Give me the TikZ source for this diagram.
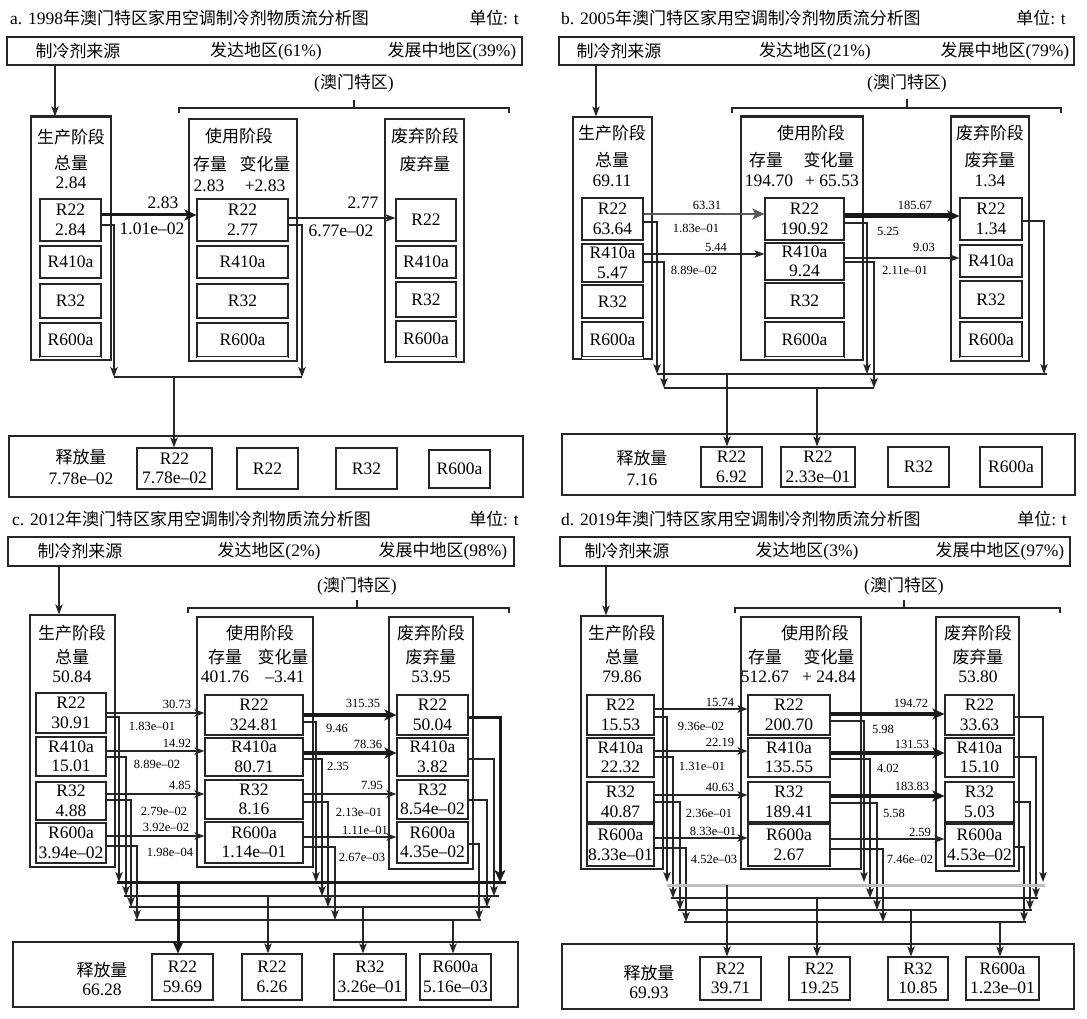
\documentclass[tikz,border=0pt]{standalone}
\usepackage{fontspec}
\setmainfont{Liberation Serif}
\newfontfamily\cjkf{Noto Sans CJK SC}[Scale=0.97]
\usetikzlibrary{arrows.meta}
\newcommand\zhs[1]{{\cjkf #1}}
\newcommand\bigf{\fontsize{17.5}{19.5}\selectfont}
\newcommand\smlf{\fontsize{12.5}{14}\selectfont}
\tikzset{
 bx/.style={draw=black!85, line width=1.2pt, inner sep=0pt, align=center, font=\bigf},
 lab/.style={inner sep=0pt, align=center, font=\bigf},
 sm/.style={font=\smlf},
 ln/.style={draw=black!85, line width=1.2pt},
 arr/.style={ln, -{Stealth[length=10pt,width=7.5pt,inset=2.5pt]}},
 tarr/.style={draw=black!90, -{Stealth[length=12pt,width=11pt,inset=3pt]}},
 toptk/.style={draw=black!85, line width=2.6pt},
 openbot/.style={draw=white, line width=1.8pt},
}
\newcommand\mbx[7][]{\node[bx,#1,minimum width={(#5-#3)*1pt},minimum height={(#6-#4)*1pt}] (#2) at ({(#3+#5)/2},{(#4+#6)/2}) {#7};}
\newcommand\tx[4][]{\node[lab,#1] (#2) at (#3) {#4};}
\newcommand\openb[1]{\draw[openbot] ([xshift=0.7pt]#1.south west) -- ([xshift=-0.7pt]#1.south east);}
\begin{document}
\begin{tikzpicture}[x=1pt,y=-1pt]
\useasboundingbox (0,0) rectangle (1087,1019);
\fill[white] (0,0) rectangle (1087,1019);
%================ Panel a ================
\tx[anchor=west]{aT}{10,18}{a. 1998\zhs{年澳门特区家用空调制冷剂物质流分析图}}
\tx[anchor=east]{aTu}{519,18}{\zhs{单位}: t}
\mbx{aH}{7}{37}{522}{65}{}
\tx{aH1}{78,51}{\zhs{制冷剂来源}}
\tx{aH2}{266,51}{\zhs{发达地区}(61\%)}
\tx{aH3}{452,51}{\zhs{发展中地区}(39\%)}
\tx{aM}{354,83}{(\zhs{澳门特区})}
\draw[ln] (179,113) -- (179,108) -- (509,108) -- (509,113) (354,108) -- (354,100);
\mbx{aP}{31}{117}{111}{360}{}
\draw[toptk] (aP.north west) -- (aP.north east);
\draw[arr] (aH.south -| 55,0) -- (aP.north -| 55,0);
\tx{aP0a}{71,137}{\zhs{生产阶段}}
\tx{aP0b}{71,163}{\zhs{总量}}
\tx{aP0c}{71,183}{2.84}
\mbx{aP1}{40}{199}{101}{241}{R22\\2.84}
\mbx{aP2}{40}{246}{101}{278}{R410a}
\mbx{aP3}{40}{284}{101}{318}{R32}
\mbx{aP4}{40}{323}{101}{357}{R600a}
\openb{aP4}
\mbx{aU}{189}{119}{297}{361}{}
\tx{aU0a}{239,136}{\zhs{使用阶段}}
\tx{aU0b}{210,164}{\zhs{存量}}
\tx{aU0c}{265,164}{\zhs{变化量}}
\tx{aU0d}{209,186}{2.83}
\tx{aU0e}{265,186}{+2.83}
\mbx{aU1}{197}{199}{288}{241}{R22\\2.77}
\mbx{aU2}{197}{246}{288}{278}{R410a}
\mbx{aU3}{197}{284}{288}{318}{R32}
\mbx{aU4}{197}{323}{288}{357}{R600a}
\openb{aU4}
\mbx{aD}{385}{119}{464}{362}{}
\tx{aD0a}{425,136}{\zhs{废弃阶段}}
\tx{aD0b}{425,164}{\zhs{废弃量}}
\mbx{aD1}{396}{199}{456}{241}{R22}
\mbx{aD2}{396}{246}{456}{278}{R410a}
\mbx{aD3}{396}{282}{456}{317}{R32}
\mbx{aD4}{396}{321}{456}{357}{R600a}
\openb{aD4}
\draw[tarr,line width=3pt] (aP1.east |- 0,215) -- (aU1.west |- 0,215);
\tx{aF1}{163,203}{2.83}
\tx{aF2}{152,229}{1.01e–02}
\draw[arr] (aU1.east |- 0,218) -- (aD1.west |- 0,218);
\tx{aF3}{363,203}{2.77}
\tx{aF4}{341,231}{6.77e–02}
\draw[arr] (aP1.east |- 0,225) -| (114,377);
\draw[arr] (aU1.east |- 0,225) -| (302,377);
\draw[ln] (114,377) -- (302,377);
\mbx{aE}{9}{436}{523}{497}{}
\tx{aE0a}{81,457}{\zhs{释放量}}
\tx{aE0b}{81,479}{7.78e–02}
\mbx{aE1}{137}{448}{212}{489}{R22\\7.78e–02}
\mbx{aE2}{237}{448}{298}{489}{R22}
\mbx{aE3}{336}{448}{397}{489}{R32}
\mbx{aE4}{429}{450}{490}{488}{R600a}
\draw[arr] (174,377) -- (aE1.north -| 174,0);
%================ Panel b ================
\tx[anchor=west]{bT}{561,18}{b. 2005\zhs{年澳门特区家用空调制冷剂物质流分析图}}
\tx[anchor=east]{bTu}{1066,18}{\zhs{单位}: t}
\mbx{bH}{559}{37}{1074}{65}{}
\tx{bH1}{619,51}{\zhs{制冷剂来源}}
\tx{bH2}{815,51}{\zhs{发达地区}(21\%)}
\tx{bH3}{1005,51}{\zhs{发展中地区}(79\%)}
\tx{bM}{907,83}{(\zhs{澳门特区})}
\draw[ln] (732,113) -- (732,108) -- (1061,108) -- (1061,113) (907,108) -- (907,99);
\mbx{bP}{573}{117}{652}{359}{}
\draw[arr] (bH.south -| 596,0) -- (bP.north -| 596,0);
\tx{bP0a}{612,133}{\zhs{生产阶段}}
\tx{bP0b}{612,160}{\zhs{总量}}
\tx{bP0c}{612,181}{69.11}
\mbx{bP1}{582}{198}{643}{240}{R22\\63.64}
\mbx{bP2}{582}{244}{643}{282}{R410a\\5.47}
\mbx{bP3}{582}{285}{643}{318}{R32}
\mbx{bP4}{582}{322}{643}{357}{R600a}
\openb{bP4}
\mbx{bU}{741}{117}{863}{360}{}
\draw[toptk] (bU.north west) -- (bU.north east);
\tx{bU0a}{811,133}{\zhs{使用阶段}}
\tx{bU0b}{766,160}{\zhs{存量}}
\tx{bU0c}{829,160}{\zhs{变化量}}
\tx{bU0d}{769,181}{194.70}
\tx{bU0e}{832,181}{+ 65.53}
\mbx{bU1}{765}{198}{844}{240}{R22\\190.92}
\mbx{bU2}{765}{243}{844}{280}{R410a\\9.24}
\mbx{bU3}{765}{283}{844}{318}{R32}
\mbx{bU4}{765}{322}{844}{357}{R600a}
\openb{bU4}
\mbx{bD}{951}{117}{1029}{361}{}
\draw[toptk] (bD.north west) -- (bD.north east);
\tx{bD0a}{990,133}{\zhs{废弃阶段}}
\tx{bD0b}{990,160}{\zhs{废弃量}}
\tx{bD0c}{990,181}{1.34}
\mbx{bD1}{960}{198}{1022}{240}{R22\\1.34}
\mbx{bD2}{960}{245}{1022}{277}{R410a}
\mbx{bD3}{960}{281}{1022}{318}{R32}
\mbx{bD4}{960}{322}{1022}{357}{R600a}
\openb{bD4}
\draw[tarr,line width=2.5pt,draw=black!65] (bP1.east |- 0,214) -- (bU1.west |- 0,214);
\tx[sm]{bF1}{707,205}{63.31}
\tx[sm]{bF2}{696,228}{1.83e–01}
\draw[arr] (bP2.east |- 0,254) -- (bU2.west |- 0,254);
\tx[sm]{bF3}{716,247}{5.44}
\tx[sm]{bF4}{694,270}{8.89e–02}
\draw[tarr,line width=5pt] (bU1.east |- 0,216) -- (bD1.west |- 0,216);
\tx[sm]{bF5}{915,205}{185.67}
\tx[sm]{bF6}{888,231}{5.25}
\draw[arr] (bU2.east |- 0,258) -- (bD2.west |- 0,258);
\tx[sm]{bF7}{924,247}{9.03}
\tx[sm]{bF8}{905,270}{2.11e–01}
\draw[arr] (bP1.east |- 0,222) -| (657,374);
\draw[arr] (bP2.east |- 0,262) -| (664,388);
\draw[arr] (bU1.east |- 0,223) -| (867,374);
\draw[arr,line width=2pt] (bU2.east |- 0,262) -| (874,388);
\draw[arr] (bD1.east |- 0,221) -| (1044,374);
\draw[ln] (657,374) -- (1047,374);
\draw[ln] (664,388) -- (874,388);
\mbx{bE}{562}{434}{1075}{495}{}
\tx{bE0a}{642,458}{\zhs{释放量}}
\tx{bE0b}{642,480}{7.16}
\mbx{bE1}{701}{447}{762}{487}{R22\\6.92}
\mbx{bE2}{781}{447}{855}{487}{R22\\2.33e–01}
\mbx{bE3}{888}{447}{949}{487}{R32}
\mbx{bE4}{980}{447}{1042}{487}{R600a}
\draw[arr] (727,374) -- (bE1.north -| 727,0);
\draw[arr] (817,388) -- (bE2.north -| 817,0);
%================ Panel c ================
\tx[anchor=west]{cT}{12,519}{c. 2012\zhs{年澳门特区家用空调制冷剂物质流分析图}}
\tx[anchor=east]{cTu}{519,519}{\zhs{单位}: t}
\mbx{cH}{8}{537}{514}{566}{}
\tx{cH1}{80,551}{\zhs{制冷剂来源}}
\tx{cH2}{269,551}{\zhs{发达地区}(2\%)}
\tx{cH3}{443,551}{\zhs{发展中地区}(98\%)}
\tx{cM}{357,586}{(\zhs{澳门特区})}
\draw[ln] (188,613) -- (188,608) -- (509,608) -- (509,613) (357,608) -- (357,600);
\mbx{cP}{30}{615}{115}{867}{}
\draw[arr] (cH.south -| 59,0) -- (cP.north -| 59,0);
\tx{cP0a}{72,633}{\zhs{生产阶段}}
\tx{cP0b}{72,657}{\zhs{总量}}
\tx{cP0c}{72,677}{50.84}
\mbx{cP1}{36}{693}{106}{733}{R22\\30.91}
\mbx{cP2}{36}{737}{106}{776}{R410a\\15.01}
\mbx{cP3}{36}{782}{106}{820}{R32\\4.88}
\mbx{cP4}{36}{823}{106}{863}{R600a\\3.94e–02}
\mbx{cU}{197}{617}{313}{867}{}
\tx{cU0a}{260,633}{\zhs{使用阶段}}
\tx{cU0b}{225,657}{\zhs{存量}}
\tx{cU0c}{283,657}{\zhs{变化量}}
\tx{cU0d}{225,677}{401.76}
\tx{cU0e}{285,677}{–3.41}
\mbx{cU1}{205}{695}{303}{735}{R22\\324.81}
\mbx{cU2}{205}{738}{303}{776}{R410a\\80.71}
\mbx{cU3}{205}{780}{303}{819}{R32\\8.16}
\mbx{cU4}{205}{822}{303}{863}{R600a\\1.14e–01}
\mbx{cD}{389}{617}{473}{869}{}
\tx{cD0a}{431,633}{\zhs{废弃阶段}}
\tx{cD0b}{431,657}{\zhs{废弃量}}
\tx{cD0c}{431,677}{53.95}
\mbx{cD1}{397}{695}{468}{735}{R22\\50.04}
\mbx{cD2}{397}{738}{468}{776}{R410a\\3.82}
\mbx{cD3}{397}{780}{468}{819}{R32\\8.54e–02}
\mbx{cD4}{397}{822}{468}{863}{R600a\\4.35e–02}
% flows production -> use
\draw[arr] (cP1.east |- 0,713) -- (cU1.west |- 0,713);
\draw[arr] (cP2.east |- 0,751) -- (cU2.west |- 0,751);
\draw[arr] (cP3.east |- 0,794) -- (cU3.west |- 0,794);
\draw[arr] (cP4.east |- 0,836) -- (cU4.west |- 0,836);
\tx[sm]{cF1}{177,704}{30.73}
\tx[sm]{cF2}{152,726}{1.83e–01}
\tx[sm]{cF3}{177,743}{14.92}
\tx[sm]{cF4}{157,764}{8.89e–02}
\tx[sm]{cF5}{180,785}{4.85}
\tx[sm]{cF6}{164,811}{2.79e–02}
\tx[sm]{cF7}{166,827}{3.92e–02}
\tx[sm]{cF8}{170,852}{1.98e–04}
% flows use -> discard
\draw[tarr,line width=3.5pt] (cU1.east |- 0,715) -- (cD1.west |- 0,715);
\draw[tarr,line width=3.5pt] (cU2.east |- 0,753) -- (cD2.west |- 0,753);
\draw[arr] (cU3.east |- 0,794) -- (cD3.west |- 0,794);
\draw[arr] (cU4.east |- 0,837) -- (cD4.west |- 0,837);
\tx[sm]{cF9}{363,703}{315.35}
\tx[sm]{cF10}{337,728}{9.46}
\tx[sm]{cF11}{368,744}{78.36}
\tx[sm]{cF12}{338,766}{2.35}
\tx[sm]{cF13}{372,785}{7.95}
\tx[sm]{cF14}{359,812}{2.13e–01}
\tx[sm]{cF15}{365,830}{1.11e–01}
\tx[sm]{cF16}{362,857}{2.67e–03}
% emissions
\draw[arr] (cP1.east |- 0,717) -| (119,882);
\draw[arr] (cP2.east |- 0,757) -| (126,896);
\draw[arr] (cP3.east |- 0,800) -| (131,907);
\draw[arr] (cP4.east |- 0,846) -| (137,920);
\draw[arr] (cU1.east |- 0,722) -| (316,882);
\draw[arr] (cU2.east |- 0,759) -| (322,896);
\draw[arr] (cU3.east |- 0,802) -| (328,907);
\draw[arr] (cU4.east |- 0,847) -| (335,920);
\draw[tarr,line width=3pt] (cD1.east |- 0,717) -| (500,882);
\draw[arr] (cD2.east |- 0,759) -| (494,896);
\draw[arr] (cD3.east |- 0,800) -| (487,907);
\draw[arr] (cD4.east |- 0,844) -| (479,920);
\draw[ln,line width=3pt,draw=black!90] (117,882) -- (506,882);
\draw[ln] (124,896) -- (499,896);
\draw[ln] (129,907) -- (490,907);
\draw[ln] (135,920) -- (481,920);
\mbx{cE}{13}{942}{518}{1007}{}
\tx{cE0a}{102,970}{\zhs{释放量}}
\tx{cE0b}{102,990}{66.28}
\mbx{cE1}{152}{954}{213}{1000}{R22\\59.69}
\mbx{cE2}{242}{954}{302}{1000}{R22\\6.26}
\mbx{cE3}{334}{954}{406}{1000}{R32\\3.26e–01}
\mbx{cE4}{420}{954}{491}{1000}{R600a\\5.16e–03}
\draw[tarr,line width=3pt] (178,882) -- (cE1.north -| 178,0);
\draw[arr] (268,896) -- (cE2.north -| 268,0);
\draw[arr] (363,907) -- (cE3.north -| 363,0);
\draw[arr] (453,920) -- (cE4.north -| 453,0);
%================ Panel d ================
\tx[anchor=west]{dT}{561,519}{d. 2019\zhs{年澳门特区家用空调制冷剂物质流分析图}}
\tx[anchor=east]{dTu}{1067,519}{\zhs{单位}: t}
\mbx{dH}{560}{537}{1070}{566}{}
\tx{dH1}{627,551}{\zhs{制冷剂来源}}
\tx{dH2}{807,551}{\zhs{发达地区}(3\%)}
\tx{dH3}{1000,551}{\zhs{发展中地区}(97\%)}
\tx{dM}{904,586}{(\zhs{澳门特区})}
\draw[ln] (735,613) -- (735,608) -- (1060,608) -- (1060,613) (904,608) -- (904,600);
\mbx{dP}{581}{616}{663}{869}{}
\draw[arr] (dH.south -| 606,0) -- (dP.north -| 606,0);
\tx{dP0a}{622,633}{\zhs{生产阶段}}
\tx{dP0b}{622,657}{\zhs{总量}}
\tx{dP0c}{622,677}{79.86}
\mbx{dP1}{587}{695}{654}{735}{R22\\15.53}
\mbx{dP2}{587}{738}{654}{777}{R410a\\22.32}
\mbx{dP3}{587}{782}{654}{822}{R32\\40.87}
\mbx{dP4}{587}{824}{654}{866}{R600a\\8.33e–01}
\mbx{dU}{741}{617}{861}{869}{}
\tx{dU0a}{815,633}{\zhs{使用阶段}}
\tx{dU0b}{765,657}{\zhs{存量}}
\tx{dU0c}{829,657}{\zhs{变化量}}
\tx{dU0d}{765,677}{512.67}
\tx{dU0e}{829,677}{+ 24.84}
\mbx{dU1}{748}{695}{830}{735}{R22\\200.70}
\mbx{dU2}{748}{738}{830}{777}{R410a\\135.55}
\mbx{dU3}{748}{782}{830}{822}{R32\\189.41}
\mbx{dU4}{748}{824}{830}{866}{R600a\\2.67}
\mbx{dD}{936}{617}{1019}{871}{}
\tx{dD0a}{978,633}{\zhs{废弃阶段}}
\tx{dD0b}{978,657}{\zhs{废弃量}}
\tx{dD0c}{978,677}{53.80}
\mbx{dD1}{945}{695}{1014}{735}{R22\\33.63}
\mbx{dD2}{945}{738}{1014}{777}{R410a\\15.10}
\mbx{dD3}{945}{782}{1014}{822}{R32\\5.03}
\mbx{dD4}{945}{824}{1014}{866}{R600a\\4.53e–02}
% flows production -> use
\draw[arr] (dP1.east |- 0,709) -- (dU1.west |- 0,709);
\draw[arr] (dP2.east |- 0,751) -- (dU2.west |- 0,751);
\draw[arr] (dP3.east |- 0,795) -- (dU3.west |- 0,795);
\draw[arr] (dP4.east |- 0,838) -- (dU4.west |- 0,838);
\tx[sm]{dF1}{720,702}{15.74}
\tx[sm]{dF2}{701,726}{9.36e–02}
\tx[sm]{dF3}{720,742}{22.19}
\tx[sm]{dF4}{702,766}{1.31e–01}
\tx[sm]{dF5}{720,787}{40.63}
\tx[sm]{dF6}{709,813}{2.36e–01}
\tx[sm]{dF7}{713,831}{8.33e–01}
\tx[sm]{dF8}{714,859}{4.52e–03}
% flows use -> discard
\draw[tarr,line width=3.5pt] (dU1.east |- 0,714) -- (dD1.west |- 0,714);
\draw[tarr,line width=3.5pt] (dU2.east |- 0,753) -- (dD2.west |- 0,753);
\draw[tarr,line width=3.5pt] (dU3.east |- 0,796) -- (dD3.west |- 0,796);
\draw[arr] (dU4.east |- 0,839) -- (dD4.west |- 0,839);
\tx[sm]{dF9}{911,703}{194.72}
\tx[sm]{dF10}{883,729}{5.98}
\tx[sm]{dF11}{912,744}{131.53}
\tx[sm]{dF12}{888,768}{4.02}
\tx[sm]{dF13}{912,786}{183.83}
\tx[sm]{dF14}{894,813}{5.58}
\tx[sm]{dF15}{920,832}{2.59}
\tx[sm]{dF16}{910,859}{7.46e–02}
% emissions
\draw[arr] (dP1.east |- 0,717) -| (667,882);
\draw[arr] (dP2.east |- 0,757) -| (673,898);
\draw[arr] (dP3.east |- 0,802) -| (680,910);
\draw[arr] (dP4.east |- 0,848) -| (686,922);
\draw[arr] (dU1.east |- 0,721) -| (864,882);
\draw[arr] (dU2.east |- 0,759) -| (870,898);
\draw[arr] (dU3.east |- 0,803) -| (877,910);
\draw[arr] (dU4.east |- 0,849) -| (883,922);
\draw[arr] (dD1.east |- 0,717) -| (1043,882);
\draw[arr] (dD2.east |- 0,757) -| (1036,898);
\draw[arr] (dD3.east |- 0,802) -| (1030,910);
\draw[arr] (dD4.east |- 0,847) -| (1024,922);
\draw[line width=3pt,draw=black!25] (667,885) -- (1045,885);
\draw[ln] (671,898) -- (1038,898);
\draw[ln] (678,910) -- (1032,910);
\draw[ln] (684,922) -- (1026,922);
\mbx{dE}{562}{944}{1074}{1009}{}
\tx{dE0a}{649,973}{\zhs{释放量}}
\tx{dE0b}{649,993}{69.93}
\mbx{dE1}{700}{957}{761}{1000}{R22\\39.71}
\mbx{dE2}{789}{957}{850}{1000}{R22\\19.25}
\mbx{dE3}{888}{957}{948}{1000}{R32\\10.85}
\mbx{dE4}{966}{957}{1039}{1000}{R600a\\1.23e–01}
\draw[arr] (727,885) -- (dE1.north -| 727,0);
\draw[arr] (817,898) -- (dE2.north -| 817,0);
\draw[arr] (911,910) -- (dE3.north -| 911,0);
\draw[arr] (1000,922) -- (dE4.north -| 1000,0);
\end{tikzpicture}
\end{document}
